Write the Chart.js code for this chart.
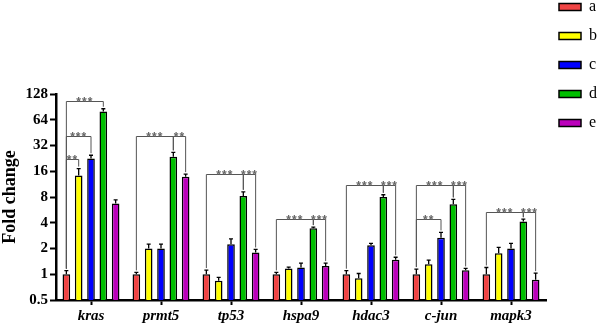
<!DOCTYPE html>
<html>
<head>
<meta charset="utf-8">
<script src="https://cdn.jsdelivr.net/npm/chart.js@4.4.0/dist/chart.umd.min.js"></script>
<style>
  html, body { margin: 0; padding: 0; background: #fff; }
</style>
</head>
<body>
<canvas id="foldChart" width="602" height="331"></canvas>
<script>
const genes = ['kras', 'prmt5', 'tp53', 'hspa9', 'hdac3', 'c-jun', 'mapk3'];
const groups = ['a', 'b', 'c', 'd', 'e'];
const groupColors = ['#f04444', '#ffff00', '#0000ff', '#00bf00', '#bb00bb'];

// mean fold change per group (one value per gene)
const valuesA = [1.0, 1.0, 1.0, 1.0, 1.0, 1.0, 1.0];
const valuesB = [14.3, 2.0, 0.84, 1.17, 0.9, 1.31, 1.76];
const valuesC = [22.6, 2.0, 2.24, 1.2, 2.18, 2.68, 2.0];
const valuesD = [80, 23.6, 8.2, 3.44, 8.0, 6.6, 4.15];
const valuesE = [6.7, 13.8, 1.8, 1.25, 1.48, 1.11, 0.86];

// upper error (SD)
const errorsA = [0.1, 0.05, 0.12, 0.05, 0.1, 0.15, 0.2];
const errorsB = [2.9, 0.25, 0.08, 0.04, 0.12, 0.15, 0.3];
const errorsC = [2.0, 0.25, 0.35, 0.15, 0.12, 0.4, 0.3];
const errorsD = [6, 3, 1.0, 0.12, 0.5, 0.9, 0.25];
const errorsE = [0.7, 1.0, 0.15, 0.1, 0.1, 0.06, 0.17];

const yTicks = [0.5, 1, 2, 4, 8, 16, 32, 64, 128];

// [gene index, left group, right group, bracket height (fold), label]
const brackets = [
  [0, 0, 3, 106, '***'], [0, 0, 2, 41, '***'], [0, 0, 1, 22, '**'],
  [1, 0, 3, 41, '***'], [1, 3, 4, 41, '**'],
  [2, 0, 3, 15, '***'], [2, 3, 4, 15, '***'],
  [3, 0, 3, 4.4, '***'], [3, 3, 4, 4.4, '***'],
  [4, 0, 3, 11, '***'], [4, 3, 4, 11, '***'],
  [5, 0, 3, 11, '***'], [5, 3, 4, 11, '***'], [5, 0, 2, 4.4, '**'],
  [6, 0, 3, 5.4, '***'], [6, 3, 4, 5.4, '***']
];

const allValues = [valuesA, valuesB, valuesC, valuesD, valuesE];
const allErrors = [errorsA, errorsB, errorsC, errorsD, errorsE];
const serif = "'Liberation Serif', 'Times New Roman', serif";

// top of the error bar in pixels
function errTop(chart, s, g) {
  return chart.scales.y.getPixelForValue(allValues[s][g] + allErrors[s][g]);
}

const errorBars = {
  id: 'errorBars',
  afterDatasetsDraw(chart) {
    const ctx = chart.ctx;
    ctx.save();
    ctx.strokeStyle = '#000';
    ctx.lineWidth = 1.3;
    chart.data.datasets.forEach((ds, s) => {
      chart.getDatasetMeta(s).data.forEach((bar, g) => {
        const top = errTop(chart, s, g);
        ctx.beginPath();
        ctx.moveTo(bar.x, bar.y);
        ctx.lineTo(bar.x, top);
        ctx.moveTo(bar.x - 2, top);
        ctx.lineTo(bar.x + 2, top);
        ctx.stroke();
      });
    });
    ctx.restore();
  }
};

const sigBrackets = {
  id: 'sigBrackets',
  afterDatasetsDraw(chart) {
    const ctx = chart.ctx;
    const y = chart.scales.y;
    ctx.save();
    ctx.strokeStyle = '#555';
    ctx.fillStyle = '#666';
    ctx.lineWidth = 1;
    ctx.font = "bold 12px 'Liberation Sans', Arial, sans-serif";
    ctx.textAlign = 'center';
    ctx.textBaseline = 'alphabetic';
    ctx.letterSpacing = '1px';
    brackets.forEach(([g, s1, s2, level, label]) => {
      const x1 = chart.getDatasetMeta(s1).data[g].x;
      const x2 = chart.getDatasetMeta(s2).data[g].x;
      const yl = Math.round(y.getPixelForValue(level)) + 0.5;
      ctx.beginPath();
      ctx.moveTo(x1, errTop(chart, s1, g) - 2);
      ctx.lineTo(x1, yl);
      ctx.lineTo(x2, yl);
      ctx.lineTo(x2, errTop(chart, s2, g) - 2);
      ctx.stroke();
      ctx.fillText(label, (x1 + x2) / 2, yl + 4);
    });
    ctx.restore();
  }
};

new Chart(document.getElementById('foldChart'), {
  type: 'bar',
  data: {
    labels: genes,
    datasets: groups.map((name, i) => ({
      label: name,
      data: allValues[i],
      backgroundColor: groupColors[i],
      borderColor: '#000',
      borderWidth: 1.5,
      barPercentage: 0.62,
      categoryPercentage: 0.88
    }))
  },
  options: {
    responsive: false,
    animation: false,
    layout: { padding: { top: -14, left: 0, right: 0, bottom: 0 } },
    plugins: {
      title: { display: true, text: ' ', fullSize: false, padding: 0, font: { size: 108, lineHeight: 1 } },
      legend: {
        position: 'right',
        align: 'start',
        maxWidth: 56,
        labels: { boxWidth: 22, boxHeight: 7, padding: 13, color: '#000', font: { family: serif, size: 16 } }
      },
      tooltip: { enabled: false }
    },
    scales: {
      x: {
        grid: { display: true, drawOnChartArea: false, offset: false, tickLength: 5, tickWidth: 2, tickColor: '#000' },
        border: { display: true, color: '#000', width: 2.5 },
        ticks: { color: '#000', padding: 2, font: { family: serif, size: 15, style: 'italic', weight: 'bold' } },
        afterFit: s => { s.height = 31; }
      },
      y: {
        type: 'logarithmic',
        min: 0.5,
        max: 128,
        afterBuildTicks: s => { s.ticks = yTicks.map(v => ({ value: v })); },
        grid: { display: true, drawOnChartArea: false, tickLength: 6, tickWidth: 2, tickColor: '#000' },
        border: { display: true, color: '#000', width: 2.5 },
        ticks: { color: '#000', padding: 2, callback: v => String(v), font: { family: serif, size: 15, weight: 'bold' } },
        title: { display: true, text: 'Fold change', color: '#000', padding: 0, font: { family: serif, size: 18, weight: 'bold' } },
        afterFit: s => { s.width = 56; }
      }
    }
  },
  plugins: [errorBars, sigBrackets]
});
</script>
</body>
</html>
